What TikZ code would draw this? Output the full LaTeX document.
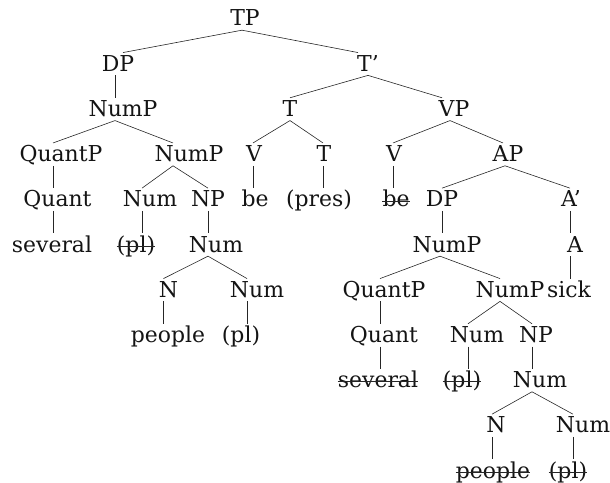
\documentclass[tikz,border=0pt]{standalone}
\usepackage{fontspec}
\setmainfont{DejaVu Serif}
\newcommand\unaryedge[3]{%
  \coordinate (tmpm) at ([xshift=#1bp]#3.north);
  \draw[br] (#2.south -| tmpm) -- (tmpm);}
\begin{document}
\begin{tikzpicture}[x=1bp,y=-1bp,
  br/.style={draw=black!85, line width=0.6pt},
  lbl/.style={anchor=base, inner xsep=0pt, inner ysep=0pt, text height=18.5pt, text depth=4pt,
    text=black!92, font=\fontsize{22}{26}\selectfont},
  struck/.style={lbl, append after command={([yshift=6pt]\tikzlastnode.base west) edge[br] ([yshift=6pt]\tikzlastnode.base east)}}]
\useasboundingbox (0,0) rectangle (610,483);
% row 0
\node[lbl] (TP) at (245,26) {TP};
% row 1
\node[lbl] (DP1) at (118,71.2) {DP};
\node[lbl] (Tb) at (368,71.2) {T’};
% row 2
\node[lbl] (NumP1) at (123,116.4) {NumP};
\node[lbl] (T1) at (290,116.4) {T};
\node[lbl] (VP) at (454,116.4) {VP};
% row 3
\node[lbl] (QuantP1) at (61,161.6) {QuantP};
\node[lbl] (NumP2) at (189,161.6) {NumP};
\node[lbl] (V1) at (254,161.6) {V};
\node[lbl] (T2) at (324,161.6) {T};
\node[lbl] (V2) at (394,161.6) {V};
\node[lbl] (AP) at (508,161.6) {AP};
% row 4
\node[lbl] (Quant1) at (57.5,206.8) {Quant};
\node[lbl] (Num1) at (150,206.8) {Num};
\node[lbl] (NP1) at (208,206.8) {NP};
\node[lbl] (be1) at (255,206.8) {be};
\node[lbl] (pres) at (319,206.8) {(pres)};
\node[struck] (be2) at (396,206.8) {be};
\node[lbl] (DP2) at (442,206.8) {DP};
\node[lbl] (Ab) at (571,206.8) {A’};
% row 5
\node[lbl] (several1) at (52,252) {several};
\node[struck] (pl1) at (136,252) {(pl)};
\node[lbl] (Num2) at (216,252) {Num};
\node[lbl] (NumP3) at (447,252) {NumP};
\node[lbl] (A) at (575,252) {A};
% row 6
\node[lbl] (N1) at (168.5,297.2) {N};
\node[lbl] (Num3) at (257,297.2) {Num};
\node[lbl] (QuantP2) at (384,297.2) {QuantP};
\node[lbl] (NumP4) at (510,297.2) {NumP};
\node[lbl] (sick) at (569,297.2) {sick};
% row 7
\node[lbl] (people1) at (168,342.4) {people};
\node[lbl] (pl2) at (241,342.4) {(pl)};
\node[lbl] (Quant2) at (384,342.4) {Quant};
\node[lbl] (Num4) at (477,342.4) {Num};
\node[lbl] (NP2) at (536,342.4) {NP};
% row 8
\node[struck] (several2) at (378,387.6) {several};
\node[struck] (pl3) at (462,387.6) {(pl)};
\node[lbl] (Num5) at (540,387.6) {Num};
% row 9
\node[lbl] (N2) at (496,432.8) {N};
\node[lbl] (Num6) at (583,432.8) {Num};
% row 10
\node[struck] (people2) at (493,478) {people};
\node[struck] (pl4) at (568,478) {(pl)};
% binary edges: parent/child/parent offset/child offset
\foreach \p/\c/\dp/\dc in {TP/DP1/-3/5, TP/Tb/-3/-10, Tb/T1/0/0, Tb/VP/0/-12,
  NumP1/QuantP1/-8/-8, NumP1/NumP2/-8/-16,
  NumP2/Num1/-16/-8, NumP2/NP1/-16/0, T1/V1/0/-1, T1/T2/0/-1,
  VP/V2/-4/-1, VP/AP/-4/-5, AP/DP2/-3/0, AP/Ab/-3/-1,
  Num2/N1/-8/-5, Num2/Num3/-8/-10, NumP3/QuantP2/-7/-4, NumP3/NumP4/-7/-10,
  NumP4/Num4/-10/-9, NumP4/NP2/-10/-4, Num5/N2/-8/-4, Num5/Num6/-8/-10}
  \draw[br] ([xshift=\dp bp]\p.south) -- ([xshift=\dc bp]\c.north);
% unary edges: offset of the line from the child's centre
\unaryedge{-8}{DP1}{NumP1}
\unaryedge{-4.5}{QuantP1}{Quant1}
\unaryedge{1}{Quant1}{several1}
\unaryedge{6}{Num1}{pl1}
\unaryedge{-8}{NP1}{Num2}
\unaryedge{-5}{N1}{people1}
\unaryedge{6}{Num3}{pl2}
\unaryedge{-2}{V1}{be1}
\unaryedge{4}{T2}{pres}
\unaryedge{-3}{V2}{be2}
\unaryedge{-5}{DP2}{NumP3}
\unaryedge{-5}{Ab}{A}
\unaryedge{1}{A}{sick}
\unaryedge{-4}{QuantP2}{Quant2}
\unaryedge{2}{Quant2}{several2}
\unaryedge{6}{Num4}{pl3}
\unaryedge{-8}{NP2}{Num5}
\unaryedge{-1}{N2}{people2}
\unaryedge{5}{Num6}{pl4}
\end{tikzpicture}
\end{document}
